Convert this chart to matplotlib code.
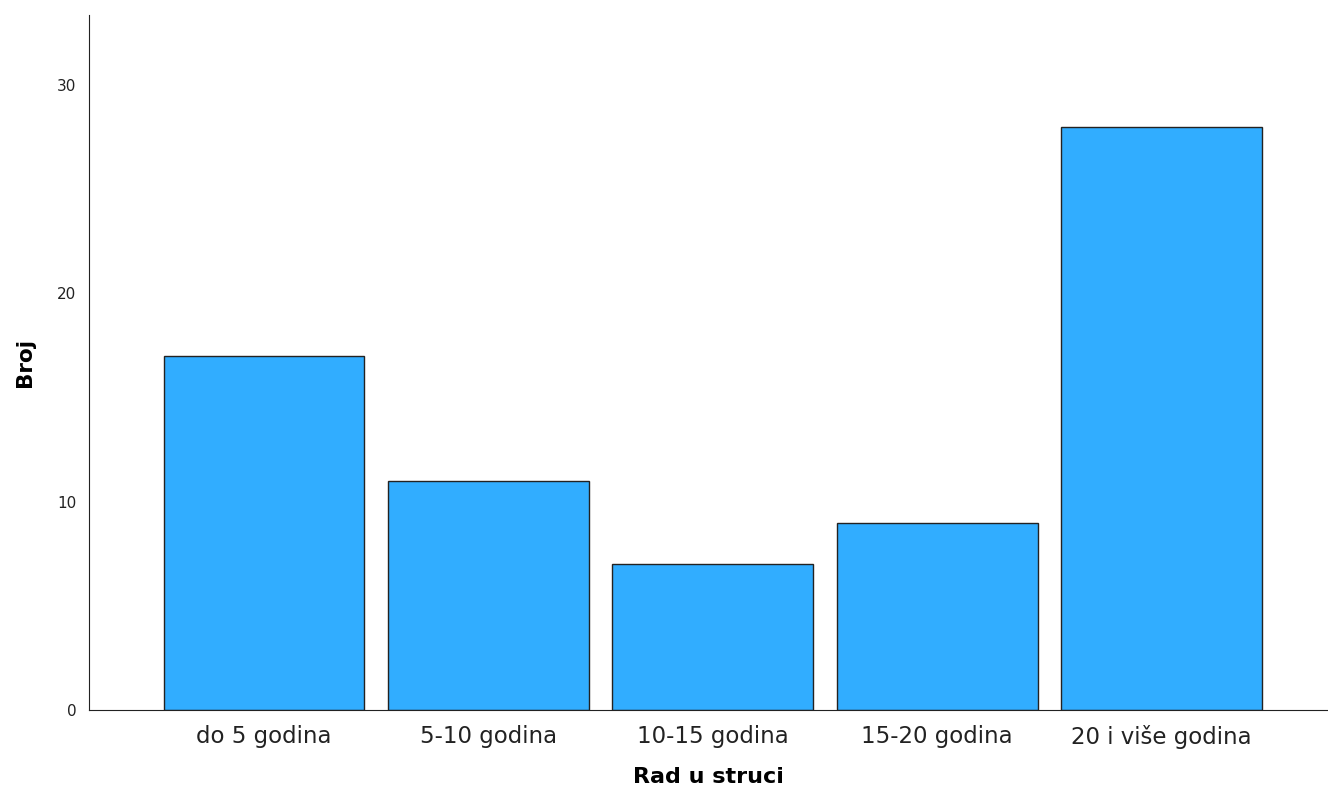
import matplotlib
matplotlib.use("Agg")
import matplotlib.pyplot as plt

# categories and counts
categories = ["do 5 godina", "5-10 godina", "10-15 godina", "15-20 godina", "20 i više godina"]
counts = [17, 11, 7, 9, 28]
yticks = [0, 10, 20, 30]

fig = plt.figure(figsize=(13.28, 7.93), dpi=100)
ax = fig.add_axes([89 / 1328, 1 - 710 / 793, 1 - 89 / 1328, (710 - 15) / 793])

x = list(range(len(categories)))
ax.bar(x, counts, width=0.895, color="#31adff", edgecolor="#222222", linewidth=1.0)

ax.set_xlim(-0.78, 4.742)
ax.set_ylim(0, 33.36)
ax.spines["top"].set_visible(False)
ax.spines["right"].set_visible(False)
ax.spines["left"].set_color("#222222")
ax.spines["bottom"].set_color("#222222")

ax.set_xticks(x)
ax.set_xticklabels(categories, fontsize=16.5, color="#222222")
ax.set_yticks(yticks)
ax.set_yticklabels([str(t) for t in yticks], fontsize=11, color="#222222")
ax.tick_params(axis="both", length=0)
ax.tick_params(axis="x", pad=11)
ax.tick_params(axis="y", pad=9)

ax.set_xlabel("Rad u struci", fontsize=16, fontweight="bold", labelpad=13)
ax.set_ylabel("Broj", fontsize=15.5, fontweight="bold", labelpad=16)

fig.savefig("out.png", dpi=100)
